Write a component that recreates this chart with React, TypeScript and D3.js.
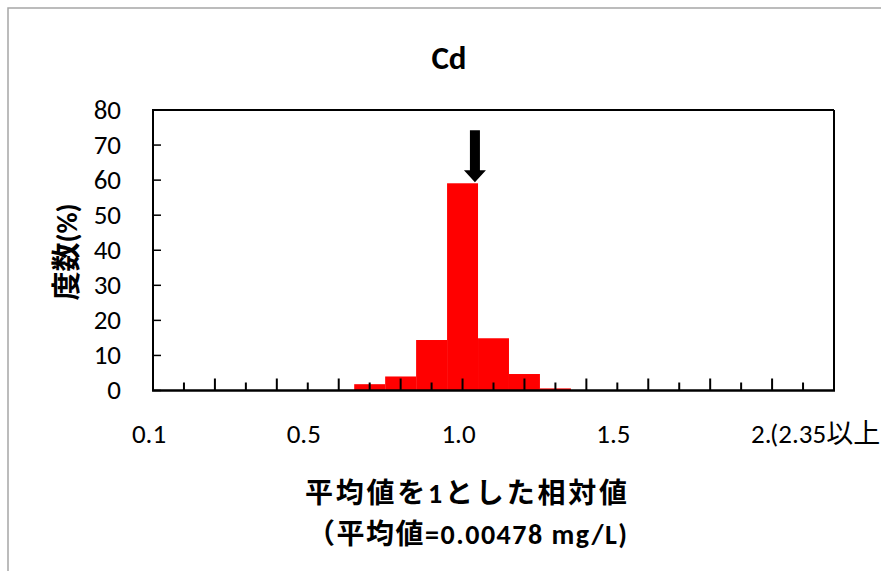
import React, { useEffect } from "react";
import * as d3 from "d3";

// Histogram of Cd concentration relative to the mean
const binCenters = [0.7, 0.8, 0.9, 1.0, 1.1, 1.2, 1.3];
const frequencies = [1.8, 4.0, 14.4, 59.1, 14.9, 4.7, 0.6];

const yTicks = [0, 10, 20, 30, 40, 50, 60, 70, 80];
const xLabelValues = [0, 0.5, 1.0, 1.5, 2.0];
const xLabelTexts = ["0.1", "0.5", "1.0", "1.5", "2.0"];
const overflowLabel = "(2.35以上)";
const minorTickValues = d3.range(1, 22).map((k) => k / 10);

const meanMarker = 1.04;
const title = "Cd";
const yTitle = "度数(%)";
const xTitle1 = "平均値を1とした相対値";
const xTitle2 = "（平均値=0.00478 mg/L)";

const W = 881;
const H = 571;
const plot = { left: 153, right: 834, top: 110, bottom: 390.5 };

const font = "Carlito, 'Noto Sans CJK JP', 'Liberation Sans', sans-serif";

export default function App() {
  useEffect(() => {
    document.body.style.margin = "0";
  }, []);

  const x = d3.scaleLinear().domain([0, 2.2]).range([plot.left, plot.right]);
  const y = d3.scaleLinear().domain([0, 80]).range([plot.bottom, plot.top]);

  const tipY = y(frequencies[3]) - 1;
  const ax = x(meanMarker);
  const arrowPath = d3.path();
  arrowPath.moveTo(ax - 5, tipY - 52);
  arrowPath.lineTo(ax + 5, tipY - 52);
  arrowPath.lineTo(ax + 5, tipY - 12);
  arrowPath.lineTo(ax + 11, tipY - 12);
  arrowPath.lineTo(ax, tipY);
  arrowPath.lineTo(ax - 11, tipY - 12);
  arrowPath.lineTo(ax - 5, tipY - 12);
  arrowPath.closePath();

  const overflowX = x(2.0) - 2;

  return (
    <svg width={W} height={H} style={{ display: "block" }}>
      <defs>
        <clipPath id="last-label-clip">
          <rect x={x(2.0) - 30} y={410} width={30 + (overflowX - x(2.0))} height={45} />
        </clipPath>
      </defs>
      <rect x={0} y={0} width={W} height={H} fill="#ffffff" />
      <rect x={8} y={8} width={W + 20} height={H + 20} fill="#ffffff" stroke="#a6a6a6" strokeWidth={1.5} />

      <text x={449} y={69} textAnchor="middle" fontFamily={font} fontWeight="bold" fontSize={33}>
        {title}
      </text>

      {/* bars */}
      {binCenters.map((c, i) => (
        <rect
          key={c}
          x={x(c - 0.05)}
          y={y(frequencies[i])}
          width={x(c + 0.05) - x(c - 0.05)}
          height={y(0) - y(frequencies[i])}
          fill="#ff0000"
        />
      ))}

      {/* frame */}
      <line x1={plot.left} x2={plot.right} y1={plot.top} y2={plot.top} stroke="#000" strokeWidth={2} />
      <line x1={plot.right} x2={plot.right} y1={plot.top} y2={plot.bottom} stroke="#000" strokeWidth={2} />
      <line x1={plot.left} x2={plot.left} y1={plot.top - 1} y2={plot.bottom} stroke="#000" strokeWidth={2} />

      {/* y ticks */}
      {yTicks.map((t) => (
        <g key={t}>
          <line x1={plot.left} x2={plot.left + 8} y1={y(t)} y2={y(t)} stroke="#000" strokeWidth={1.5} />
          <text x={121} y={y(t)} dy="0.33em" textAnchor="end" fontFamily={font} fontSize={27}>
            {t}
          </text>
        </g>
      ))}

      {/* x ticks */}
      {minorTickValues.map((v, k) => (
        <line
          key={v}
          x1={x(v)}
          x2={x(v)}
          y1={plot.bottom}
          y2={plot.bottom - ((k + 1) % 2 === 0 ? 12 : 8)}
          stroke="#000"
          strokeWidth={2}
        />
      ))}
      <line x1={plot.left - 1} x2={plot.right + 1} y1={plot.bottom} y2={plot.bottom} stroke="#000" strokeWidth={2.5} />

      {/* x labels */}
      {xLabelValues.map((v, i) => (
        <text
          key={v}
          x={x(v) - 4}
          y={443}
          textAnchor="middle"
          fontFamily={font}
          fontSize={27}
          clipPath={i === xLabelValues.length - 1 ? "url(#last-label-clip)" : undefined}
        >
          {xLabelTexts[i]}
        </text>
      ))}
      <text x={overflowX} y={443} fontFamily={font} fontSize={27}>
        {overflowLabel}
      </text>

      {/* mean marker */}
      <path d={arrowPath.toString()} fill="#000" />

      {/* axis titles */}
      <text
        transform="translate(77,252) rotate(-90)"
        textAnchor="middle"
        fontFamily={font}
        fontWeight="bold"
        fontSize={29}
      >
        {yTitle}
      </text>
      <text x={466} y={503} textAnchor="middle" fontFamily={font} fontWeight="bold" fontSize={28} textLength={322} lengthAdjust="spacing">
        {xTitle1}
      </text>
      <text x={467} y={544} textAnchor="middle" fontFamily={font} fontWeight="bold" fontSize={28} textLength={320} lengthAdjust="spacing">
        {xTitle2}
      </text>
    </svg>
  );
}
